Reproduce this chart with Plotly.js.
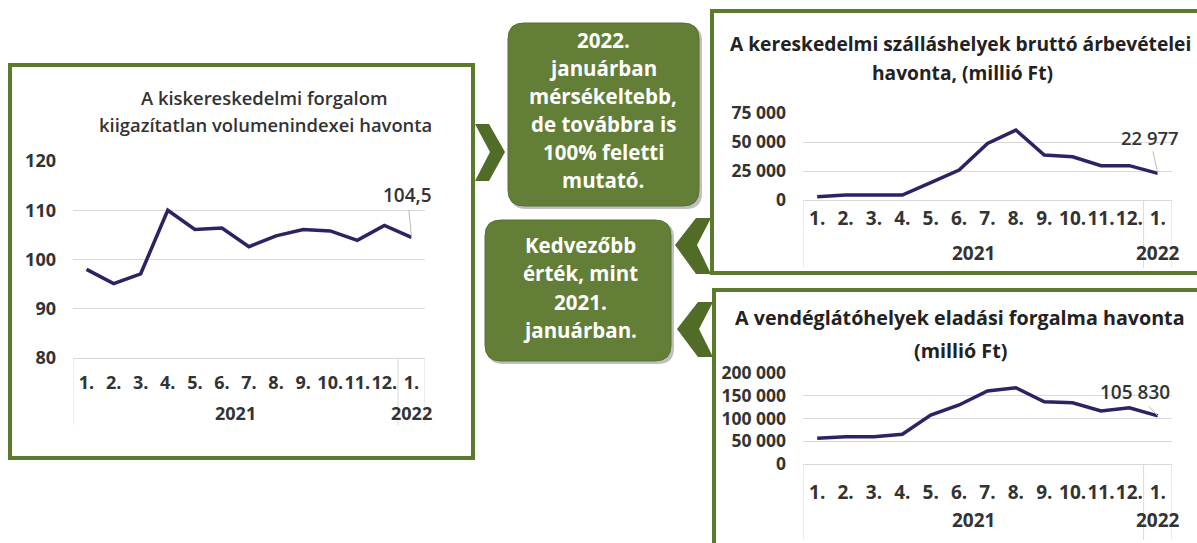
<!DOCTYPE html>
<html>
<head>
<meta charset="utf-8">
<script src="https://cdn.plot.ly/plotly-3.0.1.min.js"></script>
<style>html,body{margin:0;padding:0;background:#fff;}#chart{width:1197px;height:543px;}</style>
</head>
<body>
<div id="chart"></div>
<script>
// ---- data ----
const months = ["1.","2.","3.","4.","5.","6.","7.","8.","9.","10.","11.","12.","1."];
const years  = ["2021","2021","2021","2021","2021","2021","2021","2021","2021","2021","2021","2021","2022"];
const retailIndex = [98, 95.1, 97.1, 110, 106.1, 106.4, 102.6, 104.8, 106.1, 105.8, 103.9, 106.9, 104.5];
const accommodationRevenue = [2800, 4300, 4300, 4300, 14900, 25800, 48800, 60300, 38800, 37300, 29600, 29600, 22977];
const cateringSales = [56500, 60000, 60000, 65300, 107700, 129700, 160400, 167700, 136900, 134700, 116500, 123700, 105830];
const retailTitle = ["A kiskereskedelmi forgalom", "kiigazítatlan volumenindexei havonta"];
const accommodationTitle = ["A kereskedelmi szálláshelyek bruttó árbevételei", "havonta, (millió Ft)"];
const cateringTitle = ["A vendéglátóhelyek eladási forgalma havonta", "(millió Ft)"];
const box1Lines = ["2022.", "januárban", "mérsékeltebb,", "de továbbra is", "100% feletti", "mutató."];
const box2Lines = ["Kedvezőbb", "érték, mint", "2021.", "januárban."];

// ---- helpers ----
const W = 1197, H = 543;
const px = x => x / W;
const py = y => 1 - y / H;
function fmt(v){
  let s = (Math.round(v*10)/10).toString();
  let parts = s.split(".");
  parts[0] = parts[0].replace(/\B(?=(\d{3})+(?!\d))/g, " ");
  return parts.join(",");
}
function roundRect(x0,y0,x1,y1,r){
  const p = (x,y)=> px(x).toFixed(5)+","+py(y).toFixed(5);
  return "M"+p(x0+r,y0)+" L"+p(x1-r,y0)+" Q"+p(x1,y0)+" "+p(x1,y0+r)+
         " L"+p(x1,y1-r)+" Q"+p(x1,y1)+" "+p(x1-r,y1)+
         " L"+p(x0+r,y1)+" Q"+p(x0,y1)+" "+p(x0,y1-r)+
         " L"+p(x0,y0+r)+" Q"+p(x0,y0)+" "+p(x0+r,y0)+" Z";
}
function poly(pts){
  return "M" + pts.map(q => px(q[0]).toFixed(5)+","+py(q[1]).toFixed(5)).join(" L") + " Z";
}

const FONT = "'Open Sans', 'Noto Sans', sans-serif";
const LINE = "#2d2264";
const GREEN = "#5b7a2d";
const CHEV = "#506c27";
const BOX = "#627e37";
const GRID = "#d9d9d9";
const TXT = "#333333";

const idx = months.map((m, i) => i);
// year groups: [year, firstIndex, lastIndex]
const groups = [];
years.forEach((y, i) => {
  if (groups.length && groups[groups.length-1][0] === y) groups[groups.length-1][2] = i;
  else groups.push([y, i, i]);
});

const traces = [
  {x: idx, y: retailIndex, type: "scatter", mode: "lines", line: {color: LINE, width: 3.5}, xaxis: "x", yaxis: "y", hoverinfo: "skip"},
  {x: idx, y: accommodationRevenue, type: "scatter", mode: "lines", line: {color: LINE, width: 3.5}, xaxis: "x2", yaxis: "y2", hoverinfo: "skip"},
  {x: idx, y: cateringSales, type: "scatter", mode: "lines", line: {color: LINE, width: 3.5}, xaxis: "x3", yaxis: "y3", hoverinfo: "skip"}
];

function xax(d0, d1, anchor, size, standoff){
  return {domain: [px(d0), px(d1)], anchor: anchor, range: [-0.5, 12.5],
    tickmode: "array", tickvals: idx, ticktext: months,
    showgrid: false, zeroline: false, showline: true, linecolor: GRID, linewidth: 1,
    tickangle: 0, ticks: "", ticklabelstandoff: standoff,
    tickfont: {family: FONT, size: size, color: TXT, weight: "bold"}, fixedrange: true};
}
function yax(top, bottom, range, dtick, anchor, size, fmtS){
  return {domain: [py(bottom), py(top)], anchor: anchor, range: range, dtick: dtick,
    showgrid: true, gridcolor: GRID, gridwidth: 1, zeroline: false, showline: false, ticks: "",
    ticklabelstandoff: 16, tickformat: fmtS,
    tickfont: {family: FONT, size: size, color: TXT, weight: "bold"}, fixedrange: true};
}
function textLine(x, y, text, size, weight, color){
  return {xref: "paper", yref: "paper", x: px(x), y: py(y), text: text, showarrow: false, xanchor: "center", yanchor: "middle",
    font: {family: FONT, size: size, color: color, weight: weight}};
}
// year labels + group dividers, placed through the x axis scale
function yearMarks(xref, axisY, yearY, divBottom, size){
  const ann = [], shp = [];
  groups.forEach(g => {
    ann.push({xref: xref, yref: "paper", x: (g[1] + g[2]) / 2, y: py(yearY), text: g[0], showarrow: false,
      xanchor: "center", yanchor: "middle", font: {family: FONT, size: size, color: TXT, weight: "bold"}});
    shp.push({type: "line", xref: xref, yref: "paper", x0: g[1] - 0.5, x1: g[1] - 0.5, y0: py(axisY), y1: py(divBottom),
      line: {color: GRID, width: 1}, layer: "below"});
  });
  const last = groups[groups.length-1][2] + 0.5;
  shp.push({type: "line", xref: xref, yref: "paper", x0: last, x1: last, y0: py(axisY), y1: py(divBottom),
    line: {color: GRID, width: 1}, layer: "below"});
  return {ann, shp};
}
const ym1 = yearMarks("x", 358, 413, 425, 18);
const ym2 = yearMarks("x2", 200, 253, 268, 19);
const ym3 = yearMarks("x3", 464, 520, 540, 19);

const layout = {
  width: W, height: H, margin: {l: 0, r: 0, t: 0, b: 0},
  paper_bgcolor: "#ffffff", plot_bgcolor: "rgba(0,0,0,0)",
  showlegend: false, separators: ", ",
  xaxis: xax(73, 425, "y", 18, 8),
  yaxis: yax(161, 358, [80, 120], 10, "x", 18, ""),
  xaxis2: xax(803, 1172, "y2", 19, 1),
  yaxis2: yax(113, 200, [0, 75000], 25000, "x2", 17.5, ","),
  xaxis3: xax(803, 1172, "y3", 19, 11),
  yaxis3: yax(373, 464, [0, 200000], 50000, "x3", 17.5, ","),
  shapes: [
    // panel borders
    {type: "rect", xref: "paper", yref: "paper", x0: px(10), x1: px(473), y0: py(65), y1: py(458), line: {color: GREEN, width: 4}, layer: "below"},
    {type: "rect", xref: "paper", yref: "paper", x0: px(712), x1: px(1210), y0: py(11), y1: py(273), line: {color: GREEN, width: 4}, layer: "below"},
    {type: "rect", xref: "paper", yref: "paper", x0: px(714), x1: px(1210), y0: py(290), y1: py(560), line: {color: GREEN, width: 4}, layer: "below"},
    // boxes (shadow + body)
    {type: "path", xref: "paper", yref: "paper", path: roundRect(510, 25, 702, 209, 16), fillcolor: "rgba(0,0,0,0.25)", line: {width: 0}, layer: "below"},
    {type: "path", xref: "paper", yref: "paper", path: roundRect(508, 23, 699, 206, 16), fillcolor: BOX, line: {color: "#56722f", width: 1}, layer: "below"},
    {type: "path", xref: "paper", yref: "paper", path: roundRect(487, 222, 674, 364, 16), fillcolor: "rgba(0,0,0,0.25)", line: {width: 0}, layer: "below"},
    {type: "path", xref: "paper", yref: "paper", path: roundRect(485, 220, 671, 361, 16), fillcolor: BOX, line: {color: "#56722f", width: 1}, layer: "below"},
    // chevrons
    {type: "path", xref: "paper", yref: "paper", path: poly([[475,124],[489,124],[505,152],[489,181],[475,181],[490,152]]), fillcolor: CHEV, line: {width: 0}, layer: "below"},
    {type: "path", xref: "paper", yref: "paper", path: poly([[711,218],[696,218],[675,245],[696,274],[711,274],[697,245]]), fillcolor: CHEV, line: {width: 0}, layer: "below"},
    {type: "path", xref: "paper", yref: "paper", path: poly([[713,302],[698,302],[677,329],[698,357],[713,357],[699,329]]), fillcolor: CHEV, line: {width: 0}, layer: "below"}
  ].concat(ym1.shp, ym2.shp, ym3.shp),
  annotations: [
    textLine(264, 98, retailTitle[0], 18.4, 600, TXT),
    textLine(265, 125, retailTitle[1], 18.4, 600, TXT),
    textLine(960, 43, accommodationTitle[0], 19.2, "bold", "#222"),
    textLine(962, 72, accommodationTitle[1], 19.2, "bold", "#222"),
    textLine(960, 317, cateringTitle[0], 19.7, "bold", "#222"),
    textLine(960, 350, cateringTitle[1], 19.7, "bold", "#222"),
    // data labels
    {xref: "x", yref: "y", x: 12, y: retailIndex[12], text: fmt(retailIndex[12]), showarrow: true, arrowhead: 0, arrowwidth: 1, arrowcolor: "#bbbbbb",
     ax: -4, ay: -42, font: {family: FONT, size: 19, color: TXT, weight: 600}},
    {xref: "x2", yref: "y2", x: 12, y: accommodationRevenue[12], text: fmt(accommodationRevenue[12]), showarrow: true, arrowhead: 0, arrowwidth: 1, arrowcolor: "#bbbbbb",
     ax: -8, ay: -36, font: {family: FONT, size: 18.5, color: TXT, weight: 600}},
    {xref: "x3", yref: "y3", x: 12, y: cateringSales[12], text: fmt(cateringSales[12]), showarrow: true, arrowhead: 0, arrowwidth: 1, arrowcolor: "#bbbbbb",
     ax: -23, ay: -24, font: {family: FONT, size: 19, color: TXT, weight: 600}}
  ].concat(
    box1Lines.map((t, i) => textLine(603, 40 + i * 28, t, 20.5, "bold", "#ffffff")),
    box2Lines.map((t, i) => textLine(580, 245 + i * 28.3, t, 20.5, "bold", "#ffffff")),
    ym1.ann, ym2.ann, ym3.ann)
};

Plotly.newPlot("chart", traces, layout, {displayModeBar: false, staticPlot: true});
</script>
</body>
</html>
